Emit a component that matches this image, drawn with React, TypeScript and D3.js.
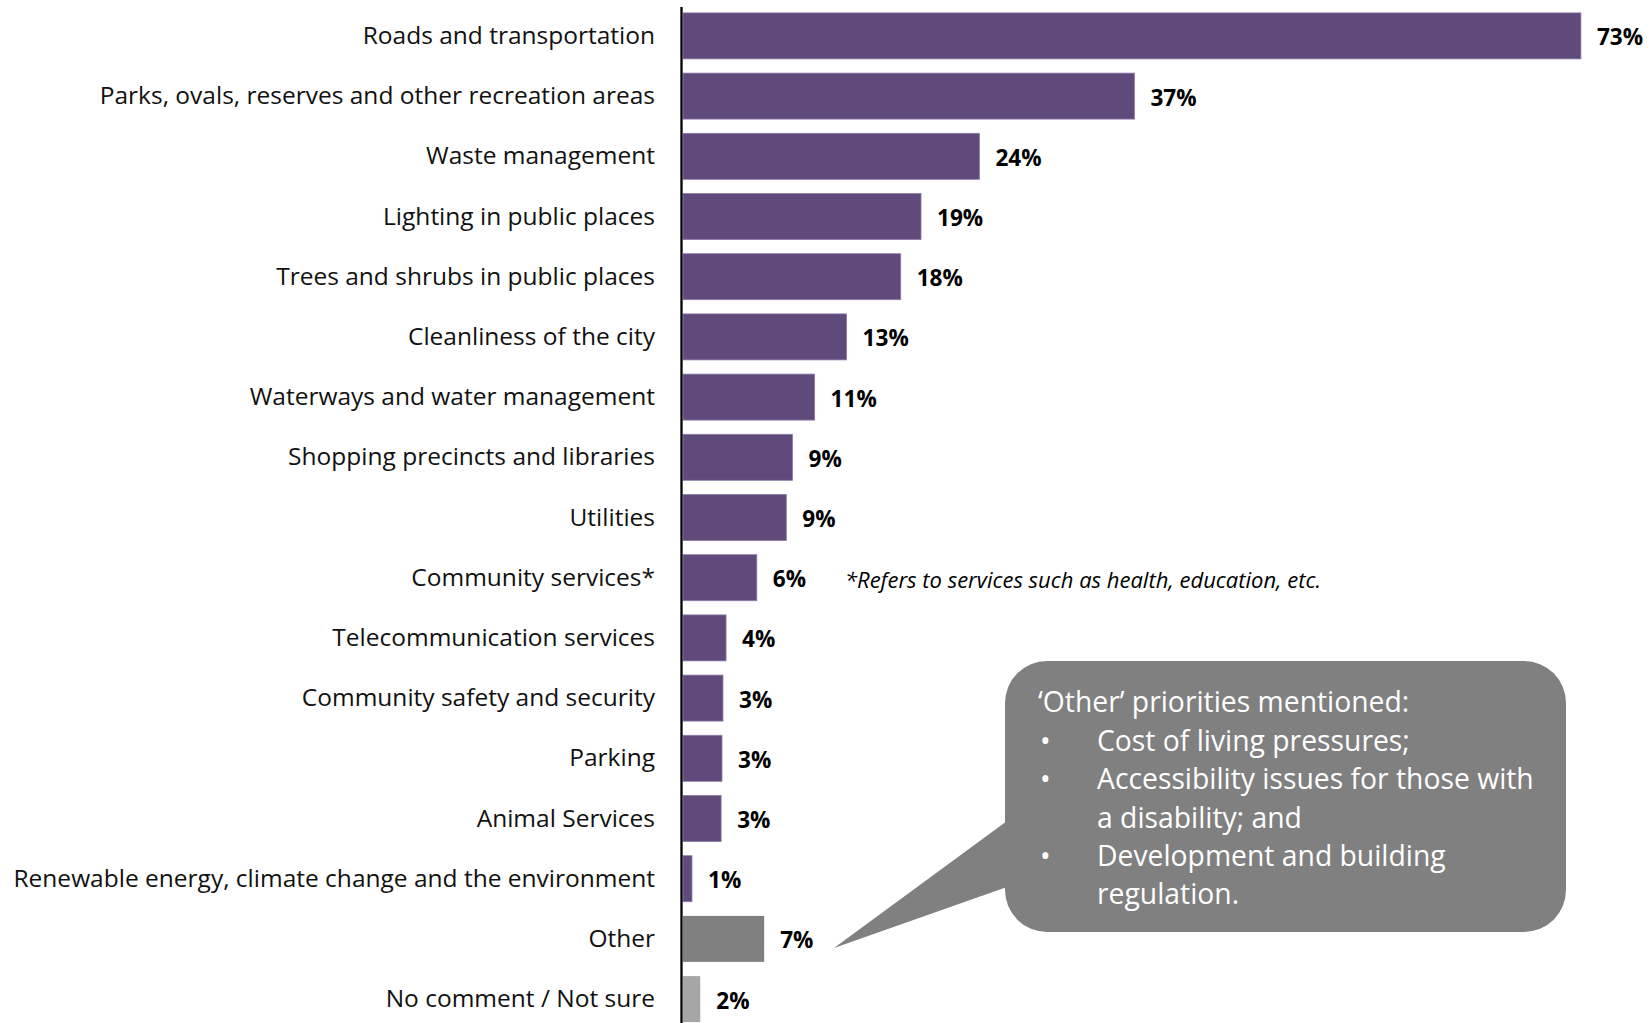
import React from "react";
import * as d3 from "d3";

const categories = [
  "Roads and transportation",
  "Parks, ovals, reserves and other recreation areas",
  "Waste management",
  "Lighting in public places",
  "Trees and shrubs in public places",
  "Cleanliness of the city",
  "Waterways and water management",
  "Shopping precincts and libraries",
  "Utilities",
  "Community services*",
  "Telecommunication services",
  "Community safety and security",
  "Parking",
  "Animal Services",
  "Renewable energy, climate change and the environment",
  "Other",
  "No comment / Not sure",
];

const values = [73.0, 36.7, 24.1, 19.35, 17.7, 13.3, 10.7, 8.9, 8.4, 6.0, 3.5, 3.25, 3.17, 3.1, 0.73, 6.6, 1.4];

const valueLabels = ["73%", "37%", "24%", "19%", "18%", "13%", "11%", "9%", "9%", "6%", "4%", "3%", "3%", "3%", "1%", "7%", "2%"];

const groups = ["main", "main", "main", "main", "main", "main", "main", "main", "main", "main", "main", "main", "main", "main", "main", "other", "none"];

const footnote = "*Refers to services such as health, education, etc.";
const calloutTitle = "\u2018Other\u2019 priorities mentioned:";
const calloutItems = [
  ["Cost of living pressures;"],
  ["Accessibility issues for those with", "a disability; and"],
  ["Development and building", "regulation."],
];

const colorFor: Record<string, string> = { main: "#604A7B", other: "#808080", none: "#A6A6A6" };

export default function App() {
  const W = 1650;
  const H = 1023;
  const x = d3.scaleLinear().domain([0, 100]).range([683, 1913]);
  const y = d3
    .scaleBand<string>()
    .domain(categories)
    .range([5.8, 1029.2])
    .paddingInner(0.236)
    .paddingOuter(0.118);
  const bw = y.bandwidth();
  const font = "'Open Sans', 'Noto Sans', sans-serif";

  // callout geometry
  const bx = 1005, by = 661, bwid = 561, bh = 271, r = 42;
  const otherY = (y("Other") as number) + bw / 2;
  const tip: [number, number] = [834, otherY + 9];
  const pointer = [
    [bx + 2, 821],
    tip,
    [bx + 2, 887],
  ];

  const lines: { bullet: boolean; text: string }[] = [];
  calloutItems.forEach((item) => item.forEach((t, i) => lines.push({ bullet: i === 0, text: t })));

  return (
    <svg
      width={W}
      height={H}
      style={{ position: "absolute", left: 0, top: 0, background: "#fff" }}
      fontFamily={font}
    >
      <rect x={0} y={0} width={W} height={H} fill="#fff" />
      {categories.map((c, i) => (
        <g key={c}>
          <rect
            x={x(0)}
            y={y(c)}
            width={x(values[i]) - x(0)}
            height={bw}
            fill={colorFor[groups[i]]}
            stroke={groups[i] === "main" ? "#8C7AA6" : "none"}
            strokeWidth={0.8}
          />
          <text
            x={655}
            y={(y(c) as number) + bw / 2 - 1.5}
            textAnchor="end"
            dominantBaseline="central"
            fontSize={24.5}
            fill="#111"
          >
            {c}
          </text>
          <text
            x={x(values[i]) + 16}
            y={(y(c) as number) + bw / 2 + 1}
            dominantBaseline="central"
            fontSize={22.6}
            fontWeight={700}
            fill="#000"
          >
            {valueLabels[i]}
          </text>
        </g>
      ))}
      <line x1={681.5} x2={681.5} y1={7} y2={H} stroke="#000" strokeWidth={2.3} />
      <text
        x={845}
        y={(y("Community services*") as number) + bw / 2 + 1}
        dominantBaseline="central"
        fontSize={22}
        fontStyle="italic"
        fill="#000"
      >
        {footnote}
      </text>
      <polygon points={pointer.map((p) => p.join(",")).join(" ")} fill="#808080" />
      <rect x={bx} y={by} width={bwid} height={bh} rx={r} ry={r} fill="#808080" />
      <text x={1038} y={701} dominantBaseline="central" fontSize={28.3} fill="#fff">
        {calloutTitle}
      </text>
      {lines.map((l, i) => (
        <g key={i}>
          {l.bullet && (
            <text x={1040} y={740 + i * 38.3} dominantBaseline="central" fontSize={28.3} fill="#fff">
              {"\u2022"}
            </text>
          )}
          <text x={1097} y={740 + i * 38.3} dominantBaseline="central" fontSize={28.3} fill="#fff">
            {l.text}
          </text>
        </g>
      ))}
    </svg>
  );
}
